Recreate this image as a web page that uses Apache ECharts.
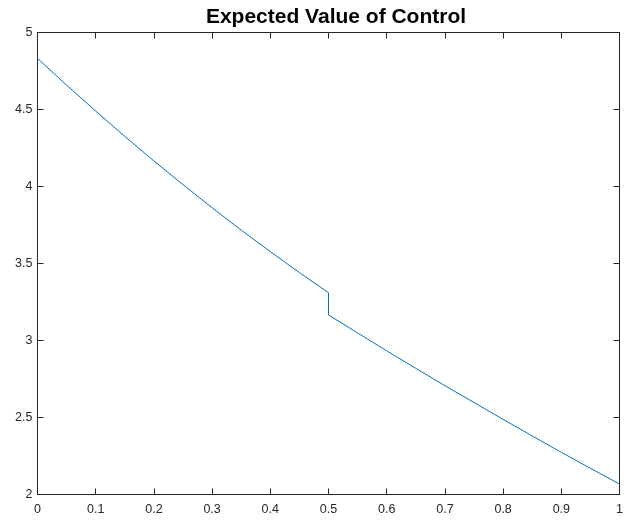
<!DOCTYPE html>
<html>
<head>
<meta charset="utf-8">
<script src="https://cdn.jsdelivr.net/npm/echarts@6/dist/echarts.min.js"></script>
<style>
  html, body { margin: 0; padding: 0; background: #fff; }
  #chart { width: 626px; height: 523px; }
</style>
</head>
<body>
<div id="chart"></div>
<script>
// Expected value of control against probability; the value drops at p = 0.5.
const chartTitle = 'Expected Value of Control';

const xLower = [0, 0.05, 0.1, 0.15, 0.2, 0.25, 0.3, 0.35, 0.4, 0.45, 0.5];
const yLower = [4.832, 4.658, 4.490, 4.325, 4.166, 4.012, 3.862, 3.717, 3.577, 3.441, 3.310];

const xUpper = [0.5, 0.55, 0.6, 0.65, 0.7, 0.75, 0.8, 0.85, 0.9, 0.95, 1.0];
const yUpper = [3.166, 3.049, 2.933, 2.819, 2.707, 2.597, 2.488, 2.380, 2.274, 2.170, 2.068];

const xTicks = [0, 0.1, 0.2, 0.3, 0.4, 0.5, 0.6, 0.7, 0.8, 0.9, 1];
const yTicks = [2, 2.5, 3, 3.5, 4, 4.5, 5];

const points = xLower.map((x, i) => [x, yLower[i]])
  .concat(xUpper.map((x, i) => [x, yUpper[i]]));

const axisColor = '#262626';
const fontFamily = '"Liberation Sans", Arial, Helvetica, sans-serif';

function makeAxis(extra, ticks, showLabels, fmt) {
  return Object.assign({
    type: 'value',
    min: ticks[0],
    max: ticks[ticks.length - 1],
    interval: ticks[1] - ticks[0],
    axisLine: { show: true, onZero: false, lineStyle: { color: axisColor, width: 1 } },
    axisTick: { show: true, inside: true, length: 6, lineStyle: { color: axisColor, width: 1 } },
    splitLine: { show: false },
    axisLabel: {
      show: showLabels,
      color: axisColor,
      fontFamily: fontFamily,
      fontSize: 12,
      formatter: fmt
    }
  }, extra);
}

const fmt = v => String(Math.round(v * 10) / 10);

const chart = echarts.init(document.getElementById('chart'), null, { renderer: 'canvas' });
chart.setOption({
  animation: false,
  backgroundColor: '#ffffff',
  title: {
    text: chartTitle,
    left: 331,
    textAlign: 'center',
    top: 2,
    textStyle: { fontFamily: fontFamily, fontSize: 21, fontWeight: 'bold', color: '#000' }
  },
  grid: { left: 37.5, right: 4, top: 32.5, bottom: 28.5, containLabel: false },
  xAxis: [
    makeAxis({ position: 'bottom', axisLabel: { color: axisColor, fontFamily: fontFamily, fontSize: 12.5, margin: 9, formatter: fmt } }, xTicks, true, fmt),
    makeAxis({ position: 'top' }, xTicks, false, fmt)
  ],
  yAxis: [
    makeAxis({ position: 'left', axisLabel: { color: axisColor, fontFamily: fontFamily, fontSize: 12.5, margin: 5, formatter: fmt } }, yTicks, true, fmt),
    makeAxis({ position: 'right' }, yTicks, false, fmt)
  ],
  series: [{
    type: 'line',
    xAxisIndex: 0,
    yAxisIndex: 0,
    data: points,
    showSymbol: false,
    symbol: 'none',
    lineStyle: { color: '#0072BD', width: 1 }
  }]
});
</script>
</body>
</html>
